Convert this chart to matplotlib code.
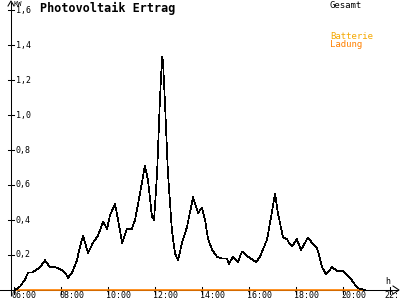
import matplotlib
matplotlib.use("Agg")
import matplotlib.pyplot as plt

# ---- data (hour of day, kW) ----
hours = [6.04, 6.26, 6.47, 6.60, 6.77, 6.89, 7.11, 7.32, 7.53, 7.74, 7.96, 8.17, 8.30,
         8.47, 8.68, 8.81, 8.94, 9.15, 9.36, 9.57, 9.79, 9.96, 10.09, 10.30, 10.43,
         10.60, 10.81, 11.02, 11.15, 11.36, 11.57, 11.70, 11.87, 11.96, 12.09, 12.21,
         12.30, 12.34, 12.43, 12.55, 12.72, 12.85, 12.98, 13.15, 13.36, 13.62, 13.83,
         14.00, 14.13, 14.26, 14.43, 14.64, 14.85, 15.06, 15.15, 15.32, 15.53, 15.70,
         15.96, 16.30, 16.47, 16.77, 16.89, 17.11, 17.23, 17.45, 17.62, 17.70, 17.83,
         18.04, 18.21, 18.30, 18.51, 18.68, 18.89, 19.02, 19.11, 19.28, 19.53, 19.74,
         20.00, 20.30, 20.51, 20.64, 20.94]
gesamt_kw = [0.00, 0.02, 0.06, 0.10, 0.10, 0.11, 0.13, 0.17, 0.13, 0.13, 0.12, 0.10, 0.07,
             0.10, 0.17, 0.25, 0.31, 0.21, 0.27, 0.31, 0.39, 0.35, 0.43, 0.49, 0.40,
             0.27, 0.35, 0.35, 0.40, 0.55, 0.71, 0.63, 0.42, 0.40, 0.67, 1.09,
             1.33, 1.31, 1.05, 0.67, 0.34, 0.21, 0.17, 0.27, 0.36, 0.53, 0.44,
             0.47, 0.40, 0.29, 0.23, 0.19, 0.18, 0.18, 0.15, 0.19, 0.16, 0.22,
             0.19, 0.16, 0.19, 0.29, 0.38, 0.55, 0.44, 0.30, 0.29, 0.27, 0.25,
             0.29, 0.23, 0.25, 0.30, 0.27, 0.24, 0.18, 0.13, 0.09, 0.13, 0.11,
             0.11, 0.07, 0.03, 0.01, 0.00]
ladung_hours = [6.0, 20.94]
ladung_kw = [0.0, 0.0]

y_ticks = [0.2, 0.4, 0.6, 0.8, 1.0, 1.2, 1.4, 1.6]
y_tick_labels = ["0,2", "0,4", "0,6", "0,8", "1,0", "1,2", "1,4", "1,6"]
x_ticks = [6, 8, 10, 12, 14, 16, 18, 20, 22]
x_tick_labels = ["06:00", "08:00", "10:00", "12:00", "14:00", "16:00", "18:00", "20:00", "22:"]

# ---- figure ----
W, H = 400, 300
fig = plt.figure(figsize=(4, 3), dpi=100)
fig.patch.set_facecolor("white")
ax = fig.add_axes([0, 0, 1, 1])
ax.set_axis_off()

# pixel geometry
px_per_h = 23.5
px_per_kw = 175.0
x0_px, y0_px = 14.0, 290.0   # pixel of (6:00, 0 kW) from top-left
def hx(px):  # pixel x -> hours
    return 6 + (px - x0_px) / px_per_h
def ky(py):  # pixel y (from top) -> kW
    return (y0_px - py) / px_per_kw
ax.set_xlim(hx(0), hx(W))
ax.set_ylim(ky(H), ky(0))

dx = 1 / px_per_h
mono = "DejaVu Sans Mono"
alw = 0.75

# axes lines
ax.plot([hx(11), hx(11)], [ky(296), ky(2)], color="black", lw=alw, solid_capstyle="butt")
ax.plot([hx(0), hx(398)], [0, 0], color="black", lw=alw)
# arrows
ax.plot([hx(8), hx(11), hx(14)], [ky(6), ky(1), ky(6)], color="black", lw=alw)
ax.plot([hx(393), hx(399), hx(393)], [ky(286), ky(290), ky(294)], color="black", lw=alw)

# y ticks
for v, lab in zip(y_ticks, y_tick_labels):
    ax.plot([hx(8), hx(14)], [v, v], color="black", lw=alw)
    ax.text(hx(16), v, lab, fontsize=6, family=mono, ha="left", va="center")
# x ticks
for h, lab in zip(x_ticks, x_tick_labels):
    ax.plot([h, h], [ky(287), ky(294)], color="black", lw=alw)
    if h == x_ticks[-1]:
        ax.text(hx(399), ky(296), lab, fontsize=6, family=mono, ha="right", va="center")
    else:
        ax.text(h - 2 * dx, ky(296), lab, fontsize=6, family=mono, ha="left", va="center")

ax.text(hx(14), ky(4), "KW", fontsize=5, family=mono, ha="left", va="center")
ax.text(hx(385), ky(282), "h", fontsize=6, family=mono, ha="left", va="center")

# series
ax.plot(ladung_hours, ladung_kw, color="#ff8000", lw=1.2, solid_capstyle="butt")
ax.plot(hours, gesamt_kw, color="black", lw=0.5, antialiased=False)

# titles / legend
ax.text(hx(40), ky(8), "Photovoltaik Ertrag", fontsize=8.5, family=mono,
        fontweight="bold", ha="left", va="center")
ax.text(hx(330), ky(5), "Gesamt", fontsize=6.5, family=mono, ha="left", va="center", color="black")
ax.text(hx(330), ky(36), "Batterie", fontsize=6.5, family=mono, ha="left", va="center", color="#f5a800")
ax.text(hx(330), ky(44), "Ladung", fontsize=6.5, family=mono, ha="left", va="center", color="#ff8000")

fig.savefig("out.png", dpi=100, facecolor="white")
